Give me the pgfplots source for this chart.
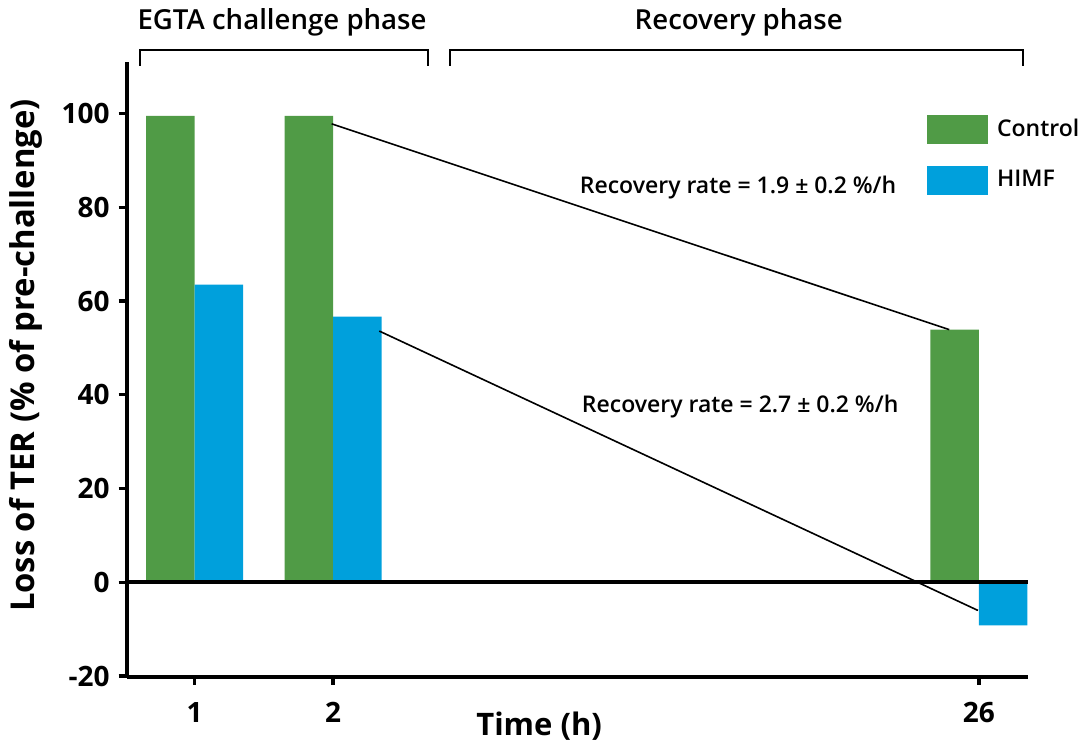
\documentclass[border=0pt]{standalone}
\usepackage{pgfplots}
\pgfplotsset{compat=1.18}
\usepackage{fontspec}
\setmainfont{Open Sans}[BoldFont={Open Sans Semibold}]
\newfontfamily\heavy{Open Sans}
\definecolor{ctrlgreen}{RGB}{80,155,70}
\definecolor{himfblue}{RGB}{0,160,220}
\begin{document}
\begin{tikzpicture}[x=1pt,y=1pt]
% page frame: 1083 x 742 px at 0.5pt per px
\path[use as bounding box] (0,0) rectangle (541.5,-371);
\begin{axis}[
    at={(63.35pt,-338.5pt)}, anchor=south west,
    scale only axis,
    width=450.4pt, height=307.5pt,
    xmin=-0.49, xmax=6.015,
    ymin=-20.2, ymax=111,
    axis x line*=bottom, axis y line*=left,
    axis line style={line width=2pt, -},
    xtick={0,1,5.664}, xticklabels={1,2,26},
    ytick={-20,0,...,100},
    tick style={line width=1.6pt, black},
    major tick length=4pt,
    tick align=outside,
    /pgf/number format/assume math mode=true,
    ticklabel style={font=\fontsize{14}{16}\selectfont\heavy\bfseries},
    yticklabel style={xshift=-1pt},
    xticklabel style={yshift=-5pt},
    xlabel={Time (h)},
    ylabel={Loss of TER (\% of pre-challenge)},
    xlabel style={font=\fontsize{15.5}{18}\selectfont\heavy\bfseries, yshift=12pt, xshift=-19pt},
    ylabel style={font=\fontsize{16.4}{19}\selectfont\heavy\bfseries, yshift=3pt, xshift=7pt},
    clip=false,
    ybar, bar width=0.35,
    legend style={draw=none, fill=none, inner sep=0pt,
        at={(rel axis cs:0.888,0.915)}, anchor=north west,
        font=\fontsize{11.5}{13}\selectfont\bfseries,
        row sep=11pt},
    legend cell align=left,
]
\addplot[fill=ctrlgreen, draw=none, bar shift=-0.175,
    legend image code/.code={\fill[ctrlgreen] (0pt,-7.25pt) rectangle (30.5pt,7.25pt); \path (33pt,0pt);}]
    coordinates {(0,99.5) (1,99.5) (5.664,53.9)};
\addlegendentry{Control}
\addplot[fill=himfblue, draw=none, bar shift=0.175,
    legend image code/.code={\fill[himfblue] (0pt,-7.25pt) rectangle (30.5pt,7.25pt); \path (33pt,0pt);}]
    coordinates {(0,63.5) (1,56.7) (5.664,-9.2)};
\addlegendentry{HIMF}
% zero line
\draw[line width=2pt] (axis cs:-0.49,0) -- (axis cs:6.015,0);
% recovery trend lines
\addplot[sharp plot, black, line width=0.8pt, forget plot] coordinates {(0.99,97.8) (5.45,53.9)};
\addplot[sharp plot, black, line width=0.8pt, forget plot] coordinates {(1.334,53.6) (5.657,-6.0)};
% phase brackets
\draw[line width=0.8pt] (axis cs:-0.394,110.2) -- (axis cs:-0.394,113.6) -- (axis cs:1.686,113.6) -- (axis cs:1.686,110.2);
\draw[line width=0.8pt] (axis cs:1.845,110.2) -- (axis cs:1.845,113.6) -- (axis cs:5.982,113.6) -- (axis cs:5.982,110.2);
\node[font=\fontsize{13.8}{16}\selectfont\bfseries] at (axis cs:0.632,119.4) {EGTA challenge phase};
\node[font=\fontsize{13.8}{16}\selectfont\bfseries] at (axis cs:3.93,119.4) {Recovery phase};
\node[font=\fontsize{11.5}{13}\selectfont\bfseries] at (axis cs:3.925,84.2) {Recovery rate = 1.9 ± 0.2 \%/h};
\node[font=\fontsize{11.5}{13}\selectfont\bfseries] at (axis cs:3.94,37.5) {Recovery rate = 2.7 ± 0.2 \%/h};
\end{axis}
\end{tikzpicture}
\end{document}
